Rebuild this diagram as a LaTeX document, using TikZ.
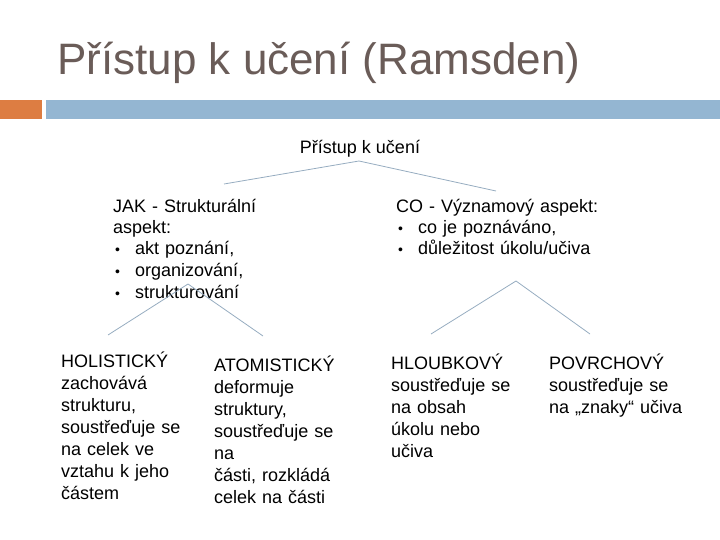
\documentclass[tikz,border=0pt]{standalone}
\usepackage{fontspec}
\setmainfont{Liberation Sans}
\definecolor{titlecol}{RGB}{106,92,88}
\definecolor{barorange}{RGB}{221,125,66}
\definecolor{barblue}{RGB}{148,182,210}
\definecolor{linecol}{RGB}{150,172,192}
\newcommand{\bul}{\makebox[22pt][l]{\hspace{2pt}{\fontsize{14}{14}\selectfont•}}}
\begin{document}
\begin{tikzpicture}[x=1pt,y=-1pt,
  txt/.style={anchor=base west, inner sep=0pt, align=left, font=\fontsize{18}{21.5}\selectfont},
  lowtxt/.style={txt, font=\fontsize{18}{22}\selectfont},
  conn/.style={draw=linecol, line width=0.8pt}]
\useasboundingbox (0,0) rectangle (720,540);
% title and bars
\node[anchor=base west, inner sep=0pt, text=titlecol, font=\fontsize{44}{50}\selectfont] (title) at (57,75) {Přístup k učení (Ramsden)};
\fill[barorange] (0,100) rectangle (42,119);
\fill[barblue] (46,100) rectangle (720,119);
% nodes
\node[anchor=base, inner sep=0pt, font=\fontsize{18}{21.5}\selectfont] (root) at (360,154) {Přístup k učení};
\node[txt, text width=220pt] (jak) at (113,212) {JAK - Strukturální\\aspekt:\\\bul akt poznání,\\\bul organizování,\\\bul strukturování};
\node[txt, text width=260pt] (co) at (396,212) {CO - Významový aspekt:\\\bul co je poznáváno,\\\bul důležitost úkolu/učiva};
\node[lowtxt, text width=140pt] (hol) at (61,367) {HOLISTICKÝ\\zachovává\\strukturu,\\soustřeďuje se\\na celek ve\\vztahu k jeho\\částem};
\node[lowtxt, text width=140pt] (ato) at (214,371) {ATOMISTICKÝ\\deformuje\\struktury,\\soustřeďuje se\\na\\části, rozkládá\\celek na části};
\node[lowtxt, text width=140pt] (hlo) at (391,369) {HLOUBKOVÝ\\soustřeďuje se\\na obsah\\úkolu nebo\\učiva};
\node[lowtxt, text width=160pt] (pov) at (549,369) {POVRCHOVÝ\\soustřeďuje se\\na „znaky“ učiva};
% connector points
\coordinate (rootj) at (359,161);
\coordinate (jakin) at (224,184);
\coordinate (coin) at (496,191);
\coordinate (jakj) at (188,284);
\coordinate (holin) at (108,335);
\coordinate (atoin) at (263,336);
\coordinate (coj) at (516,281);
\coordinate (hloin) at (431,334);
\coordinate (povin) at (590,334);
\draw[conn] (jakin) -- (rootj) -- (coin);
\draw[conn] (holin) -- (jakj) -- (atoin);
\draw[conn] (hloin) -- (coj) -- (povin);
\end{tikzpicture}
\end{document}
